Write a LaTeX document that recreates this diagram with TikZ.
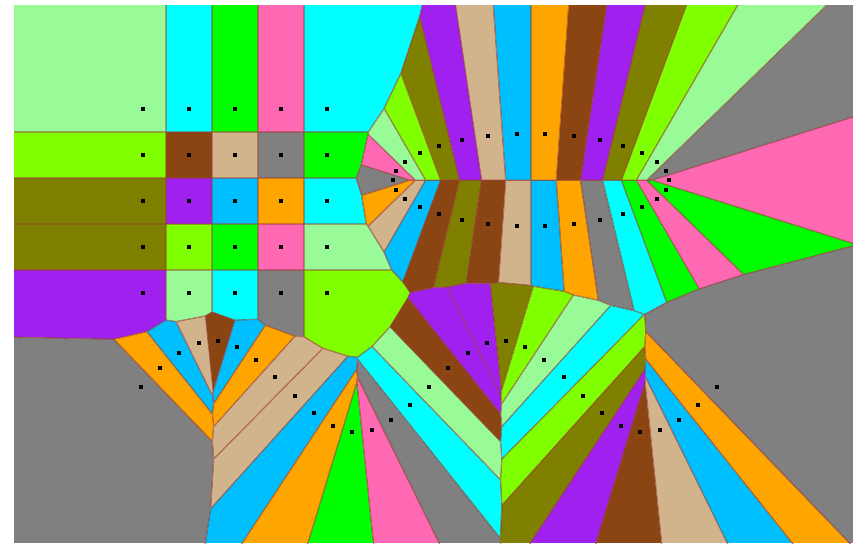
\documentclass[tikz,border=0pt]{standalone}
\usepackage{tikz}

% cell colours
\definecolor{vLightGreen}{RGB}{152,251,152}
\definecolor{vCyan}{RGB}{0,255,255}
\definecolor{vGreen}{RGB}{0,255,0}
\definecolor{vPink}{RGB}{255,105,180}
\definecolor{vLime}{RGB}{127,255,0}
\definecolor{vBrown}{RGB}{139,69,19}
\definecolor{vTan}{RGB}{210,180,140}
\definecolor{vGrey}{RGB}{128,128,128}
\definecolor{vOlive}{RGB}{128,128,0}
\definecolor{vPurple}{RGB}{160,32,240}
\definecolor{vSky}{RGB}{0,191,255}
\definecolor{vOrange}{RGB}{255,165,0}
\definecolor{vBorder}{RGB}{150,60,50}

% site store
\newcount\nsite
\newcommand\addsite[3]{\global\advance\nsite by 1
  \expandafter\xdef\csname sx\the\nsite\endcsname{#1}%
  \expandafter\xdef\csname sy\the\nsite\endcsname{#2}%
  \expandafter\xdef\csname sc\the\nsite\endcsname{#3}}

\begin{document}
\begin{tikzpicture}[
    x=0.5pt, y=-0.5pt,
    sitedot/.style={rectangle, fill=black, inner sep=0pt, minimum size=2pt},
    cellborder/.style={draw=vBorder, line width=0.6pt, opacity=0.7}
]
    \useasboundingbox[fill=white] (0,0) rectangle (860,543);

    % Grid sites
    \foreach \c [count=\n from 0] in {vLightGreen,vCyan,vGreen,vPink,vCyan,
        vLime,vBrown,vTan,vGrey,vGreen,
        vOlive,vPurple,vSky,vOrange,vCyan,
        vOlive,vLime,vGreen,vPink,vLightGreen,
        vPurple,vLightGreen,vCyan,vGrey,vLime} {
        \pgfmathsetmacro\sx{143+46*mod(\n,5)}
        \pgfmathsetmacro\sy{109+46*floor(\n/5)}
        \addsite{\sx}{\sy}{\c}
    }

    % Ellipse sites
    \foreach \c [count=\k from 0] in {vPink,vGrey,vLightGreen,vLime,vOlive,vPurple,vBrown,vOrange,vSky,vTan,
        vPurple,vOlive,vLime,vLightGreen,vPink,vGrey,vOrange,vTan,vSky,vBrown,
        vOlive,vBrown,vTan,vSky,vOrange,vGrey,vCyan,vGreen,vPink,vGreen} {
        \pgfmathsetmacro\sx{531+137.7*cos(12*\k)}
        \pgfmathsetmacro\sy{180.2-46*sin(12*\k)}
        \addsite{\sx}{\sy}{\c}
    }

    % Wave sites
    \foreach \c [count=\k from 0] in {vGrey,vOrange,vSky,vTan,vBrown,vSky,vOrange,vTan,vTan,vSky,
        vOrange,vGreen,vPink,vGrey,vCyan,vLightGreen,vBrown,vPurple,vPurple,vOlive,
        vLime,vLightGreen,vCyan,vLime,vOlive,vPurple,vBrown,vTan,vSky,vOrange,vGrey} {
        \pgfmathsetmacro\sx{141+19.21*\k}
        \pgfmathsetmacro\sy{386.6-45.5*sin(24*\k)}
        \addsite{\sx}{\sy}{\c}
    }

    \edef\nlast{\the\nsite}

    % Cells: each one clipped by its half-planes
    \foreach \i in {1,...,\nlast} {
        \begin{scope}
            \clip (14,5) rectangle (853,543);
            \edef\Xa{\csname sx\i\endcsname}
            \edef\Ya{\csname sy\i\endcsname}
            \gdef\cellEdges{}
            \foreach \j in {1,...,\nlast} {
                \ifnum\i=\j\relax\else
                    \edef\Xb{\csname sx\j\endcsname}
                    \edef\Yb{\csname sy\j\endcsname}
                    \pgfmathsetmacro\len{veclen(\Xa-(\Xb),\Ya-(\Yb))}
                    \pgfmathsetmacro\ux{(\Xa-(\Xb))/\len*1500}
                    \pgfmathsetmacro\uy{(\Ya-(\Yb))/\len*1500}
                    \pgfmathsetmacro\mx{(\Xa+\Xb)/2}
                    \pgfmathsetmacro\my{(\Ya+\Yb)/2}
                    \pgfmathsetmacro\Pax{\mx-(\uy)}
                    \pgfmathsetmacro\Pay{\my+(\ux)}
                    \pgfmathsetmacro\Pbx{\mx+(\uy)}
                    \pgfmathsetmacro\Pby{\my-(\ux)}
                    \pgfmathsetmacro\Pcx{\Pbx+(\ux)}
                    \pgfmathsetmacro\Pcy{\Pby+(\uy)}
                    \pgfmathsetmacro\Pdx{\Pax+(\ux)}
                    \pgfmathsetmacro\Pdy{\Pay+(\uy)}
                    \clip (\Pax,\Pay) -- (\Pbx,\Pby) -- (\Pcx,\Pcy) -- (\Pdx,\Pdy) -- cycle;
                    \xdef\cellEdges{\cellEdges (\Pax,\Pay) -- (\Pbx,\Pby)}
                \fi
            }
            \fill[\csname sc\i\endcsname] (14,5) rectangle (853,543);
            \draw[cellborder] \cellEdges;
        \end{scope}
    }

    % Site dots
    \foreach \n in {1,...,\nlast} {
        \edef\Xa{\csname sx\n\endcsname}
        \edef\Ya{\csname sy\n\endcsname}
        \node[sitedot] (s\n) at (\Xa,\Ya) {};
    }
\end{tikzpicture}
\end{document}
